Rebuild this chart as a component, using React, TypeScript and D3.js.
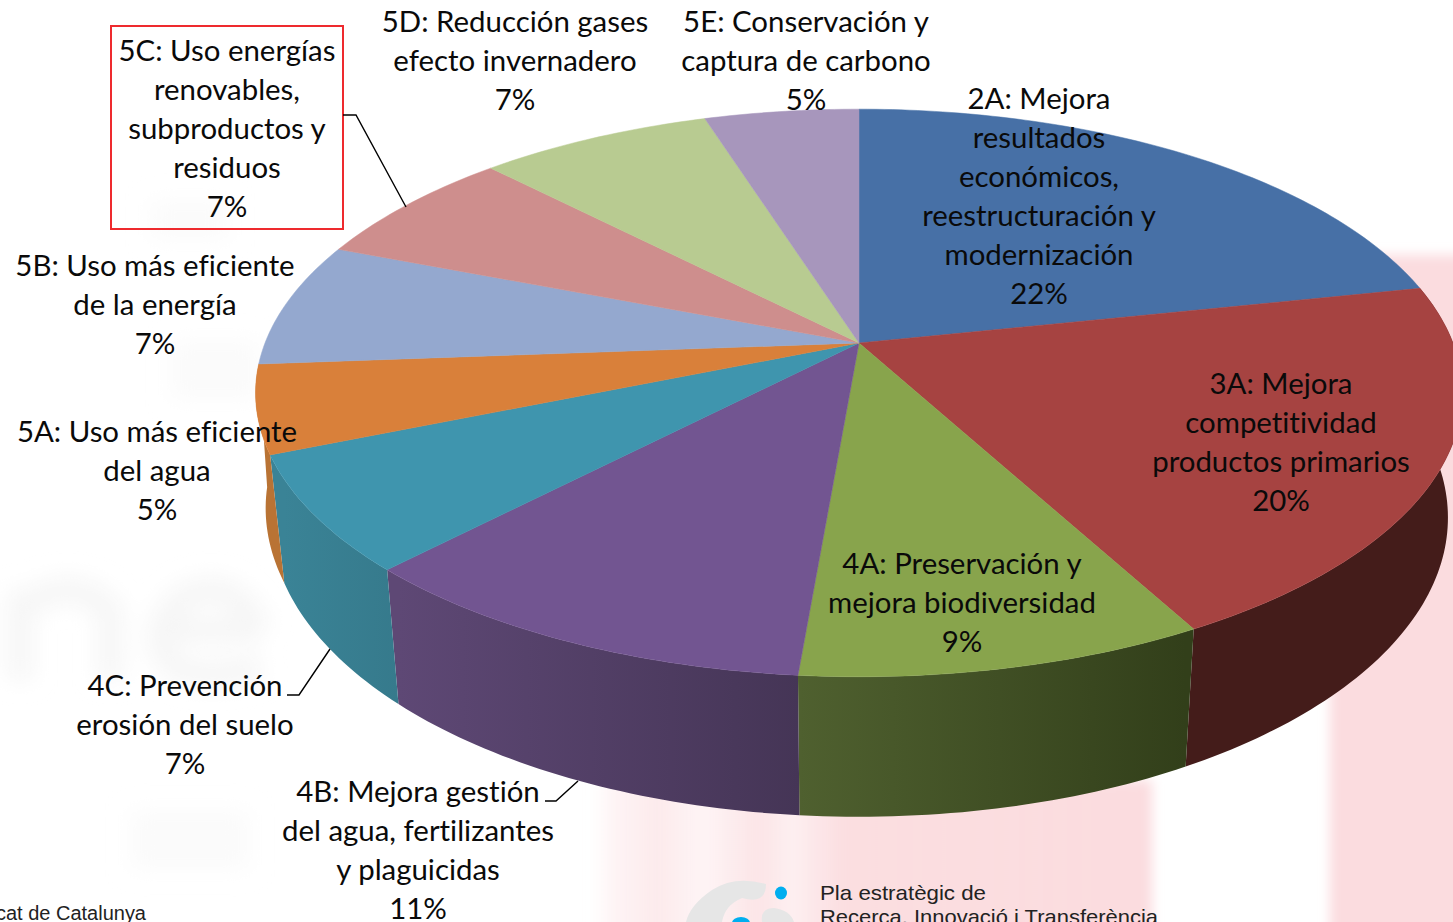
import React from "react";
import * as d3 from "d3";

const W = 1453, H = 922;

const categories = ["2A", "3A", "4A", "4B", "4C", "5A", "5B", "5C", "5D", "5E"];
// shares read from slice boundaries (labels show the rounded values)
const shares = [21.7, 20.4, 9.25, 10.85, 6.6, 5.0, 7.1, 6.8, 7.4, 4.9];
const topColors = ["#4770A6", "#A64341", "#88A44C", "#725591", "#3F95AE", "#D9803A", "#94A8CF", "#CE8E8D", "#B8CB91", "#A796BC"];
const wallFrom = ["#2B4468", "#441C1A", "#4F602F", "#5E4875", "#3A8396", "#B97334", "#5A6A88", "#825858", "#75825A", "#6A5F78"];
const wallTo = ["#2B4468", "#441C1A", "#323F1A", "#453556", "#367A8C", "#B97334", "#5A6A88", "#825858", "#75825A", "#6A5F78"];

const labelLines = [
  ["2A: Mejora", "resultados", "económicos,", "reestructuración y", "modernización", "22%"],
  ["3A: Mejora", "competitividad", "productos primarios", "20%"],
  ["4A: Preservación y", "mejora biodiversidad", "9%"],
  ["4B: Mejora gestión", "del agua, fertilizantes", "y plaguicidas", "11%"],
  ["4C: Prevención", "erosión del suelo", "7%"],
  ["5A: Uso más eficiente", "del agua", "5%"],
  ["5B: Uso más eficiente", "de la energía", "7%"],
  ["5C: Uso energías", "renovables,", "subproductos y", "residuos", "7%"],
  ["5D: Reducción gases", "efecto invernadero", "7%"],
  ["5E: Conservación y", "captura de carbono", "5%"],
];
const labelX = [1039, 1281, 962, 418, 185, 157, 155, 227, 515, 806];
const labelY = [99, 384, 564, 792, 686, 432, 266, 51, 22, 22];

const leaders: [number, number][][] = [
  [[343, 115], [356, 115], [406, 207]],
  [[287, 695], [299, 695], [330, 649]],
  [[545, 801], [556, 801], [578, 781]],
];

// perspective disc parameters
const cx = 859, cy = 343, a = 594, b = 275, k = 0.176;
const wallCy = 465, wallSx = 0.976, wallSy = 1.054;

const dxOf = d3.scaleLinear().domain([0, 1]).range([0, a]);
const dyOf = d3.scaleLinear().domain([0, 1]).range([0, b]);

function top(t: number): [number, number] {
  const u = Math.sin(t), v = -Math.cos(t), w = 1 - k * v;
  return [cx + dxOf(u / w), cy + dyOf(v / w)];
}
function bottom(t: number): [number, number] {
  const [x, y] = top(t);
  const dy = y - cy;
  // the lower rim hugs the top rim a little more towards the left tangent
  const sx = x < cx && dy < 112 ? wallSx + (0.01 * (112 - dy)) / 91 : wallSx;
  return [cx + (x - cx) * sx, wallCy + dy * wallSy];
}
function arcSamples(t0: number, t1: number) {
  const n = Math.max(8, Math.ceil((t1 - t0) * 60));
  return d3.range(n + 1).map((i) => t0 + ((t1 - t0) * i) / n);
}
const line = d3.line<[number, number]>();

const slices = d3.pie<number>().sort(null).value((d) => d)(shares);

function topPath(s: d3.PieArcDatum<number>) {
  return line([[cx, cy], ...arcSamples(s.startAngle, s.endAngle).map(top)]) + "Z";
}
function wallPath(s: d3.PieArcDatum<number>) {
  const ts = arcSamples(s.startAngle, s.endAngle);
  return line([...ts.map(top), ...ts.slice().reverse().map(bottom)]) + "Z";
}
function wallExtent(s: d3.PieArcDatum<number>) {
  const xs = arcSamples(s.startAngle, s.endAngle).map((t) => bottom(t)[0]);
  return d3.extent(xs) as [number, number];
}
// only slices whose rim faces the viewer show a wall
const visibleWall = (s: d3.PieArcDatum<number>) =>
  s.endAngle > Math.PI / 2 && s.startAngle < 1.44 * Math.PI;

const font = "Lato, 'Noto Sans', sans-serif";
const lineStep = 39;

export default function App() {
  return (
    <svg
      width={W}
      height={H}
      viewBox={`0 0 ${W} ${H}`}
      style={{ position: "fixed", left: 0, top: 0, display: "block", background: "#fff" }}
    >
      <defs>
        <filter id="blur" x="-20%" y="-20%" width="140%" height="140%"><feGaussianBlur stdDeviation="6" /></filter>
        <filter id="blur2" x="-20%" y="-20%" width="140%" height="140%"><feGaussianBlur stdDeviation="11" /></filter>
        <linearGradient id="bandFade" x1="0" x2="1" y1="0" y2="0">
          <stop offset="0" stopColor="#fbdcdf" stopOpacity="0" />
          <stop offset="0.05" stopColor="#fbdcdf" stopOpacity="0.35" />
          <stop offset="0.12" stopColor="#fbdcdf" stopOpacity="0.6" />
          <stop offset="0.2" stopColor="#fbdcdf" stopOpacity="0.3" />
          <stop offset="0.3" stopColor="#fbdcdf" stopOpacity="0.75" />
          <stop offset="0.36" stopColor="#fbdcdf" stopOpacity="0.45" />
          <stop offset="0.45" stopColor="#fbdcdf" stopOpacity="0.95" />
          <stop offset="1" stopColor="#fbdcdf" stopOpacity="1" />
        </linearGradient>
      </defs>
      <defs>
        {slices.map((s, i) => {
          const [x0, x1] = wallExtent(s);
          return (
            <linearGradient key={i} id={`wall${i}`} gradientUnits="userSpaceOnUse" x1={x0} x2={x1} y1={0} y2={0}>
              <stop offset="0" stopColor={wallFrom[i]} />
              <stop offset="1" stopColor={wallTo[i]} />
            </linearGradient>
          );
        })}
      </defs>

      {/* washed-out slide background */}
      <g filter="url(#blur)">
        <rect x={590} y={780} width={562} height={160} fill="url(#bandFade)" />
        <rect x={1330} y={255} width={140} height={690} fill="#fbdcdf" />
      </g>
      <g filter="url(#blur2)">
        <path d="M20 680V590M20 610Q70 570 110 610V680M150 630H260M260 630Q230 570 180 600Q140 640 180 670Q220 680 260 665"
          fill="none" stroke="#f6f6f6" strokeWidth={26} />
        <g fill="#fbfbfb">
          <rect x={150} y={200} width={80} height={40} />
          <rect x={170} y={340} width={90} height={60} />
          <rect x={130} y={810} width={120} height={60} />
        </g>
      </g>

      {/* logo & footer */}
      <rect x={0} y={900} width={243} height={22} fill="#fff" />
      <text x={146} y={920} textAnchor="end" fontFamily="Liberation Sans, Arial, sans-serif" fontSize={20} fill="#222" textLength={150} lengthAdjust="spacingAndGlyphs">cat de Catalunya</text>
      <path d="M766 884Q735 875 712 890Q690 905 686 922H722Q725 905 742 898Q766 905 766 884Z" fill="#e6e6e6" />
      <path d="M762 922Q760 908 774 908Q790 910 794 922Z" fill="#e6e6e6" />
      <ellipse cx={781} cy={893} rx={6} ry={6.5} fill="#00AEEF" />
      <ellipse cx={741} cy={923} rx={9} ry={6} fill="#00AEEF" />
      <text x={820} y={900} fontFamily="Liberation Sans, Arial, sans-serif" fontSize={21} fill="#222" textLength={166} lengthAdjust="spacingAndGlyphs">Pla estratègic de</text>
      <text x={820} y={924} fontFamily="Liberation Sans, Arial, sans-serif" fontSize={21} fill="#222" textLength={338} lengthAdjust="spacingAndGlyphs">Recerca, Innovació i Transferència</text>

      {/* walls */}
      {slices.map((s, i) =>
        visibleWall(s) ? <path key={categories[i]} d={wallPath(s)} fill={`url(#wall${i})`} /> : null
      )}
      {/* top faces */}
      {slices.map((s, i) => (
        <path key={categories[i]} d={topPath(s)} fill={topColors[i]} stroke={topColors[i]} strokeWidth={0.5} />
      ))}

      {/* callout box */}
      <rect x={111} y={26} width={232} height={203} fill="none" stroke="#ee2a2e" strokeWidth={2} />
      {leaders.map((l, i) => (
        <path key={i} d={line(l) as string} fill="none" stroke="#000" strokeWidth={1.4} />
      ))}

      {/* labels */}
      {labelLines.map((lines, i) => (
        <g key={categories[i]}>
          {lines.map((t, j) => (
            <text key={j} x={labelX[i]} y={labelY[i] + j * lineStep} dy="0.35em" textAnchor="middle"
              fontFamily={font} fontSize={29.4} fill="#0a0a0a"
              style={{ fontVariantLigatures: "none" }}>{t}</text>
          ))}
        </g>
      ))}
    </svg>
  );
}
